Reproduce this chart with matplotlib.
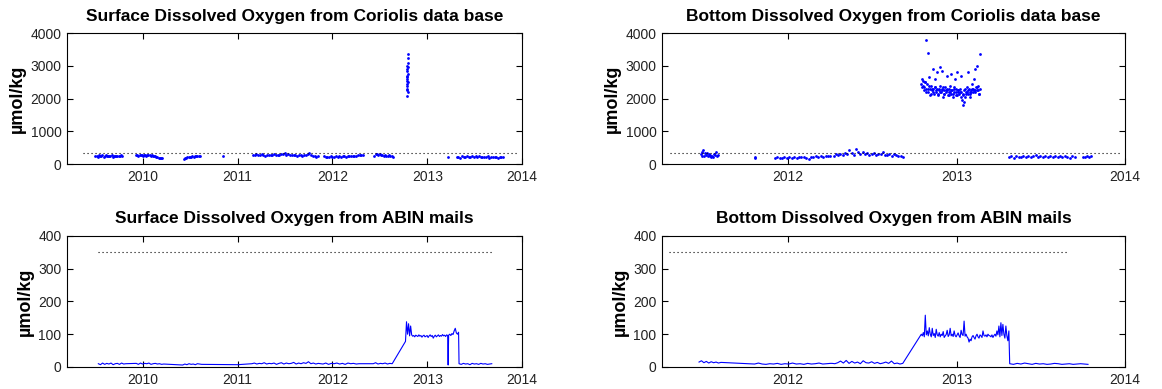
import numpy as np
import matplotlib
matplotlib.use("Agg")
import matplotlib.pyplot as plt

plt.rcParams['font.family'] = ['Liberation Sans', 'DejaVu Sans']

# ---- Surface, Coriolis (decimal year segments, umol/kg) ----
surf_cor_segs = [
    (2009.50, 2009.78, [245, 260, 230, 270, 250, 240, 265, 225, 255, 280, 240, 235,
                        260, 250, 270, 230, 245, 260, 250, 240, 255, 235, 265, 250]),
    (2009.93, 2010.20, [270, 280, 255, 290, 265, 275, 250, 285, 270, 260, 280, 265,
                        275, 255, 270, 260, 250, 240, 230, 215, 200, 190, 180, 175]),
    (2010.43, 2010.60, [170, 200, 190, 215, 205, 230, 220, 240, 225, 250, 235, 260, 245, 255]),
    (2010.85, 2010.85, [240]),
    (2011.16, 2011.85, [290, 275, 300, 285, 270, 295, 280, 260, 275, 290, 270, 285, 300,
                        275, 265, 280, 295, 310, 330, 290, 300, 280, 265, 290, 275, 250,
                        265, 280, 260, 270, 285, 300, 340, 280, 260, 240, 230, 235]),
    (2011.91, 2012.25, [240, 215, 230, 210, 235, 225, 220, 240, 230, 245, 225, 235, 250,
                        230, 240, 255, 245, 260, 235, 250]),
    (2012.27, 2012.32, [280, 270, 290, 275]),
    (2012.44, 2012.64, [260, 300, 320, 290, 310, 280, 270, 260, 285, 255, 250, 265, 240, 250, 230]),
    (2012.785, 2012.795, [2080, 2300, 2450, 2250, 2600, 2400, 2700, 2550, 2850, 2650,
                          2900, 3000, 2750, 3100, 2950, 3250, 3350, 2200, 2500]),
    (2013.22, 2013.22, [230]),
    (2013.31, 2013.80, [210, 230, 200, 240, 225, 215, 245, 220, 230, 250, 210, 235, 220,
                        240, 205, 225, 230, 215, 235, 200, 220, 210, 230, 215, 190, 225, 205, 220]),
]

# ---- Bottom, Coriolis ----
bot_cor_segs = [
    (2011.48, 2011.58, [300, 380, 260, 420, 250, 330, 280, 350, 240, 300, 260, 280, 230, 260, 220,
                        310, 270, 360, 250, 290]),
    (2011.80, 2011.805, [210, 180]),
    (2011.92, 2012.25, [190, 210, 180, 200, 215, 195, 205, 185, 220, 200, 210, 230, 215,
                        190, 160, 205, 225, 240, 220, 250, 230, 245, 260, 235]),
    (2012.27, 2012.68, [260, 300, 280, 320, 270, 350, 300, 420, 330, 290, 460, 360, 320,
                        380, 300, 340, 290, 310, 350, 280, 320, 300, 380, 290, 270, 300,
                        260, 320, 280, 240, 260, 230]),
    (2012.79, 2013.14, [2450, 2600, 2400, 2550, 2350, 2500, 2300, 3800, 2450, 3400, 2200,
                        2650, 2300, 2100, 2400, 2250, 2900, 2300, 2150, 2350, 2600, 2200,
                        2800, 2300, 2150, 2250, 2950, 2400, 2200, 2850, 2300, 2050, 2250,
                        2150, 2350, 2200, 2700, 2250, 2100, 2300, 2200, 2400, 2150, 2750,
                        2250, 2050, 2350, 2200, 2600, 2300, 2100, 2800, 2250, 2200, 2150,
                        2300, 2700, 2200, 1950, 2100, 1800, 1900, 2050, 2200, 2150, 2350,
                        2250, 2800, 2300, 2150, 2200, 2250, 2450, 2200, 2300, 2600, 2250,
                        2900, 2350, 3000, 2250, 2400, 2150, 3350, 2300]),
    (2012.795, 2013.135, [2350, 2250, 2500, 2200, 2300, 2400, 2150, 2300, 2200, 2350, 2250,
                          2100, 2300, 2200, 2250, 2350, 2150, 2250, 2300, 2100, 2200, 2250,
                          2150, 2300, 2200, 2100, 2250, 2200, 2050, 2150, 2250, 2300, 2200,
                          2150, 2050, 2200, 2300, 2250, 2200, 2350, 2250, 2150]),
    (2013.31, 2013.70, [220, 250, 200, 240, 230, 210, 260, 225, 240, 215, 235, 280, 230,
                        250, 220, 245, 230, 260, 215, 240, 225, 235, 210, 245, 230, 200, 240, 220]),
    (2013.75, 2013.80, [230, 215, 240, 225, 235]),
]

# ---- Surface, ABIN mails ----
surf_abin_segs = [
    (2009.53, 2009.82, [10, 7, 12, 8, 11, 9, 12, 7, 10, 11, 8, 12, 9, 10]),
    (2009.93, 2010.22, [11, 8, 12, 9, 11, 10, 12, 8, 10, 11, 9, 10, 8, 9]),
    (2010.42, 2010.62, [6, 9, 7, 10, 8, 9, 7, 10, 9, 8]),
    (2011.00, 2011.00, [7]),
    (2011.15, 2011.85, [10, 12, 9, 11, 10, 13, 9, 11, 10, 12, 8, 11, 13, 9, 12, 10, 11,
                        14, 9, 12, 10, 13, 11, 16, 10, 12, 9, 11]),
    (2011.90, 2012.28, [9, 12, 8, 11, 10, 12, 9, 11, 8, 12, 10, 11, 9, 10]),
    (2012.43, 2012.63, [10, 13, 9, 11, 10, 12, 9, 11, 10]),
    (2012.77, 2013.215, [78, 138, 100, 132, 95, 125, 98, 94, 96, 92, 97, 95, 93, 98, 94,
                         96, 91, 95, 97, 92, 94, 96, 90, 95, 98, 93, 96, 88, 94, 97, 92,
                         95, 98, 93, 96, 94, 99, 95, 97, 93, 98, 96]),
    (2013.22, 2013.22, [6]),
    (2013.225, 2013.33, [97, 100, 96, 102, 99, 110, 118, 104, 100, 106]),
    (2013.335, 2013.68, [10, 8, 11, 9, 10, 7, 11, 9, 10, 8, 11, 9, 10, 8, 9, 10]),
]

# ---- Bottom, ABIN mails ----
bot_abin_segs = [
    (2011.47, 2011.60, [15, 19, 13, 17, 12, 16, 13, 15, 12, 14]),
    (2011.80, 2012.25, [9, 12, 9, 8, 10, 9, 11, 8, 10, 9, 12, 9, 10, 8, 11, 9, 10, 12, 9, 10, 11]),
    (2012.26, 2012.68, [11, 10, 13, 18, 12, 20, 11, 17, 12, 15, 10, 19, 13, 12, 16, 11,
                        14, 10, 12, 15, 11, 18, 10, 12, 9, 11]),
    (2012.79, 2013.31, [100, 95, 105, 92, 158, 98, 110, 95, 120, 100, 92, 118, 96, 102, 90,
                        115, 98, 94, 105, 92, 100, 96, 108, 90, 95, 99, 112, 93, 98, 118,
                        95, 100, 93, 110, 96, 92, 98, 104, 95, 90, 112, 99, 96, 140, 94,
                        100, 92, 88, 76, 85, 80, 92, 96, 90, 85, 95, 100, 92, 88, 98, 95,
                        90, 110, 96, 94, 98, 92, 100, 96, 95, 92, 98, 90, 96, 100, 94, 110,
                        98, 125, 92, 135, 96, 130, 100, 88, 125, 95, 80, 110]),
    (2013.315, 2013.78, [10, 8, 11, 9, 12, 10, 8, 11, 9, 10, 8, 9, 11, 10, 8, 9, 10, 8,
                         9, 10, 9, 8]),
]

threshold = 350
thr_span = {
    'surf_cor': (2009.37, 2013.95),
    'bot_cor': (2011.30, 2013.97),
    'surf_abin': (2009.53, 2013.68),
    'bot_abin': (2011.29, 2013.67),
}

titles = ['Surface Dissolved Oxygen from Coriolis data base',
          'Bottom Dissolved Oxygen from Coriolis data base',
          'Surface Dissolved Oxygen from ABIN mails',
          'Bottom Dissolved Oxygen from ABIN mails']


def flatten(segs):
    xs, ys = [], []
    for t0, t1, vals in segs:
        xs.append(np.linspace(t0, t1, len(vals)))
        ys.append(np.asarray(vals, dtype=float))
    return np.concatenate(xs), np.concatenate(ys)


fig = plt.figure(figsize=(11.62, 3.89), dpi=100)
pos = [
    [0.0577, 0.578, 0.3916, 0.337],
    [0.5697, 0.578, 0.3985, 0.337],
    [0.0577, 0.0566, 0.3916, 0.337],
    [0.5697, 0.0566, 0.3985, 0.337],
]
keys = ['surf_cor', 'bot_cor', 'surf_abin', 'bot_abin']
data = [surf_cor_segs, bot_cor_segs, surf_abin_segs, bot_abin_segs]
xlims = [(2009.2, 2014), (2011.25, 2014), (2009.2, 2014), (2011.25, 2014)]

for i in range(4):
    ax = fig.add_axes(pos[i])
    x, y = flatten(data[i])
    if i < 2:
        ax.plot(x, y, 'o', color='blue', markersize=2.0, markeredgewidth=0)
        ax.set_ylim(0, 4000)
        ax.set_yticks([0, 1000, 2000, 3000, 4000])
    else:
        ax.plot(x, y, '-', color='blue', linewidth=0.8)
        ax.set_ylim(0, 400)
        ax.set_yticks([0, 100, 200, 300, 400])
    t0, t1 = thr_span[keys[i]]
    ax.plot([t0, t1], [threshold, threshold], color='black',
            linestyle=(0, (1, 2.6)), linewidth=0.8)
    ax.set_xlim(*xlims[i])
    yr0 = int(np.ceil(xlims[i][0]))
    ax.set_xticks(range(yr0, 2015))
    ax.set_title(titles[i], fontsize=12.5, fontweight='bold', pad=9)
    ax.set_ylabel('µmol/kg', fontsize=13, fontweight='bold', labelpad=3)
    ax.tick_params(direction='in', top=True, right=True, length=4, width=0.8,
                   labelsize=10, labelcolor='#222222', pad=4)
    for s in ax.spines.values():
        s.set_linewidth(0.8)

fig.savefig('out.png', dpi=100)
